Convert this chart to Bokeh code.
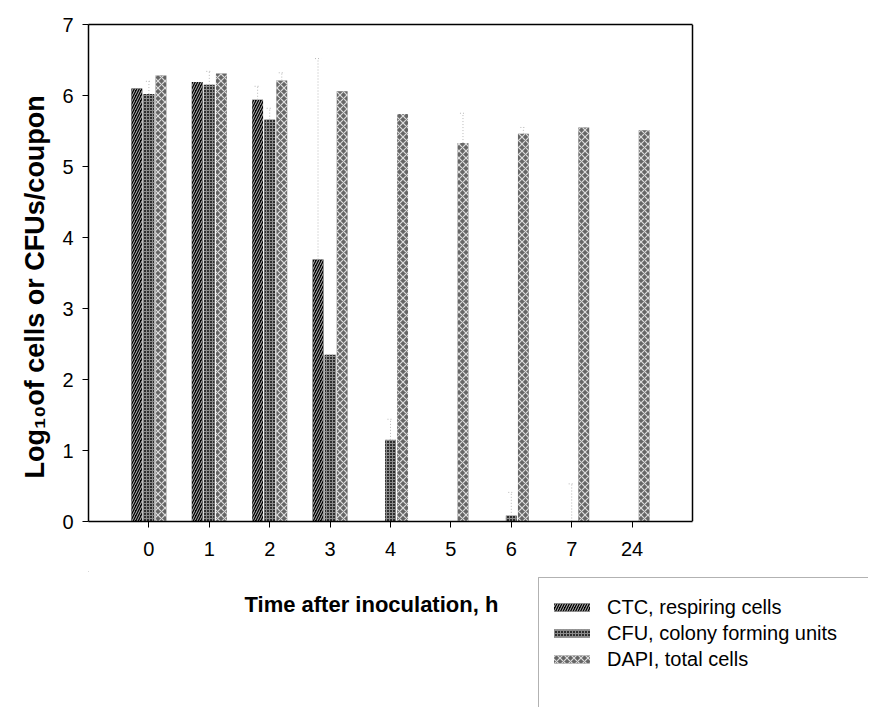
from bokeh.plotting import figure
from bokeh.layouts import column
from bokeh.models import (Range1d, FixedTicker, Legend, LegendItem,
                          ColumnDataSource, Title, Label, BoxAnnotation,
                          LinearAxis, Span)
from bokeh.embed import file_html
from bokeh.resources import INLINE

# ---------------- data ----------------
hours = ["0", "1", "2", "3", "4", "5", "6", "7", "24"]
ctc = [6.10, 6.19, 5.94, 3.69, 0.0, 0.0, 0.0, 0.0, 0.0]
cfu = [6.02, 6.15, 5.66, 2.35, 1.15, 0.0, 0.08, 0.0, 0.0]
dapi = [6.28, 6.31, 6.21, 6.06, 5.74, 5.33, 5.46, 5.55, 5.51]
ctc_err = [0.0, 0.0, 0.19, 2.83, 0.0, 0.0, 0.0, 0.0, 0.0]
cfu_err = [0.18, 0.19, 0.16, 0.0, 0.29, 0.0, 0.33, 0.53, 0.0]
dapi_err = [0.0, 0.0, 0.11, 0.0, 0.0, 0.42, 0.09, 0.0, 0.0]
y_ticks = [0, 1, 2, 3, 4, 5, 6, 7]
series_names = ["CTC, respiring cells", "CFU, colony forming units", "DAPI, total cells"]
x_title = "Time after inoculation, h"
y_title = "Log\u2081\u2080of cells or CFUs/coupon"

# ---------------- layout ----------------
BOX_W, FH = 604, 497          # visible plot box
BL, BT, BB = 88, 24, 50
TOTAL_W = 868
FW = TOTAL_W - BL             # frame runs to the right edge
LOWER_H = 136
FONT = "Liberation Sans"
XMIN, XBOX = -1, 9
PX_PER_X = BOX_W / (XBOX - XMIN)
XMAX = XMIN + FW / PX_PER_X

p = figure(frame_width=FW, frame_height=FH,
           min_border_left=BL, min_border_right=0,
           min_border_top=BT, min_border_bottom=BB,
           x_range=Range1d(XMIN, XMAX), y_range=Range1d(0, 7),
           output_backend="svg", toolbar_location=None,
           background_fill_color="white", border_fill_color="white")

p.grid.visible = False
p.outline_line_color = None

pos = list(range(len(hours)))

p.xaxis.ticker = FixedTicker(ticks=pos)
p.xaxis.bounds = (XMIN, XBOX)
p.xaxis.major_label_overrides = {i: h for i, h in zip(pos, hours)}
p.yaxis.ticker = FixedTicker(ticks=y_ticks)
for ax in (p.xaxis, p.yaxis):
    ax.axis_line_color = "black"
    ax.axis_line_width = 1.5
    ax.major_tick_line_color = "black"
    ax.major_tick_line_width = 1
    ax.major_tick_in = 0
    ax.major_tick_out = 6
    ax.minor_tick_line_color = None
    ax.major_label_text_font = FONT
    ax.major_label_text_font_size = "20px"
    ax.major_label_text_color = "black"
p.xaxis.major_label_standoff = 14
p.yaxis.major_label_standoff = 9

# top and right edges of the plot box
top_axis = LinearAxis(ticker=FixedTicker(ticks=[]), bounds=(XMIN, XBOX),
                      axis_line_color="black", axis_line_width=1.5,
                      major_tick_line_color=None, minor_tick_line_color=None,
                      major_label_text_font_size="0px")
p.add_layout(top_axis, "above")
p.add_layout(Span(location=XBOX, dimension="height", line_color="black",
                  line_width=1.5))

width = 0.18
offs = [-0.2, 0.0, 0.2]
styles = [
    dict(fill_color="black", hatch_pattern="/", hatch_color="#bdbdbd",
         hatch_scale=5, hatch_weight=1),
    dict(fill_color="#2e2e2e", hatch_pattern="+", hatch_color="#8c8c8c",
         hatch_scale=3, hatch_weight=1),
    dict(fill_color="#666666", hatch_pattern="x", hatch_color="#dddddd",
         hatch_scale=7, hatch_weight=1.2),
]
vals = [ctc, cfu, dapi]
errs = [ctc_err, cfu_err, dapi_err]

for v, e, o, st in zip(vals, errs, offs, styles):
    xs = [i + o for i in pos]
    src = ColumnDataSource(dict(x=xs, top=v))
    p.vbar(x="x", top="top", width=width, bottom=0, source=src,
           line_color=None, **st)
    # faint upper error bars
    ex = [x for x, ee in zip(xs, e) if ee > 0]
    ey0 = [vv for vv, ee in zip(v, e) if ee > 0]
    ey1 = [vv + ee for vv, ee in zip(v, e) if ee > 0]
    if ex:
        esrc = ColumnDataSource(dict(x=ex, y0=ey0, y1=ey1,
                                     xl=[x - 0.05 for x in ex],
                                     xr=[x + 0.05 for x in ex]))
        p.segment(x0="x", y0="y0", x1="x", y1="y1", source=esrc,
                  line_color="#b8b8b8", line_width=1, line_dash="1 2")
        p.segment(x0="xl", y0="y1", x1="xr", y1="y1", source=esrc,
                  line_color="#b8b8b8", line_width=1, line_dash="1 2")

# y axis title (vertical, with subscript)
p.add_layout(Title(text=y_title, align="left", offset=43, standoff=20,
                   text_font=FONT, text_font_style="bold",
                   text_font_size="27px", text_color="black"), "left")

# ---------------- lower strip: x title + legend ----------------
q = figure(width=TOTAL_W, height=LOWER_H, title=None,
           x_range=Range1d(0, FW), y_range=Range1d(LOWER_H, 0),
           x_axis_type=None, y_axis_type=None,
           min_border_left=BL, min_border_right=0,
           min_border_top=0, min_border_bottom=0,
           output_backend="svg", toolbar_location=None,
           background_fill_color="white", border_fill_color="white")
q.outline_line_color = None
q.grid.visible = False

q.add_layout(Label(x=244 - BL, y=33, text=x_title, text_align="left",
                   text_baseline="middle", text_font=FONT,
                   text_font_style="bold", text_font_size="22px",
                   text_color="black"))

# legend swatch renderers (kept outside the visible strip)
swatches = []
for st in styles:
    sw = q.vbar(x=[-500], top=[-500], bottom=[-510], width=10,
                line_color=None, **st)
    swatches.append(sw)

legend = Legend(items=[LegendItem(label=n, renderers=[r])
                       for n, r in zip(series_names, swatches)],
                location=(461, 35), orientation="vertical",
                padding=16, margin=0, spacing=0, label_height=26,
                glyph_width=45, glyph_height=10, label_standoff=13,
                border_line_color=None, background_fill_alpha=0,
                label_text_font=FONT, label_text_font_size="20px",
                label_text_color="black")
q.add_layout(legend)

q.add_layout(BoxAnnotation(left=538 - BL, right=FW + 50, top=6,
                           bottom=LOWER_H + 50,
                           fill_color=None, line_color="black", line_width=1))

layout = column(p, q, spacing=0)
open("out.html", "w").write(file_html(layout, INLINE))
